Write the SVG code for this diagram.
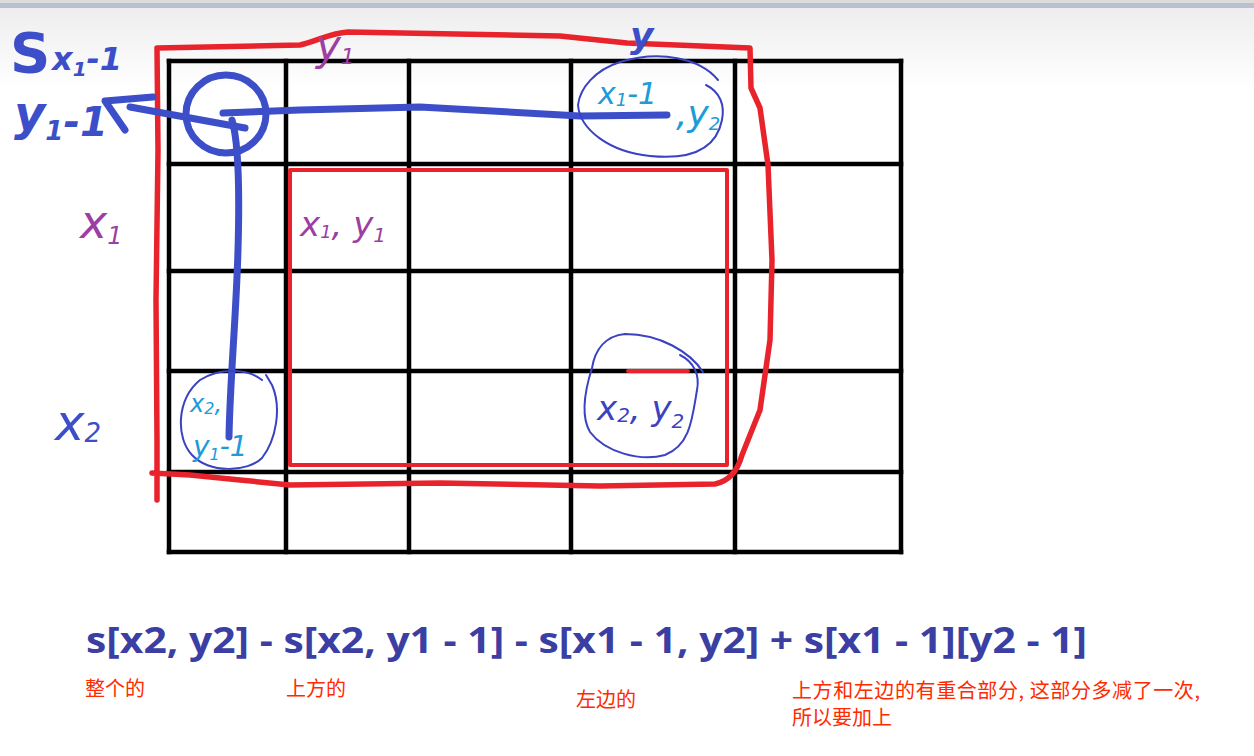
<svg xmlns="http://www.w3.org/2000/svg" width="1254" height="756" viewBox="0 0 1254 756">
<defs>
<linearGradient id="bg" x1="0" y1="0" x2="0" y2="1">
<stop offset="0" stop-color="#ececec"/>
<stop offset="1" stop-color="#ffffff"/>
</linearGradient>
<style>
.grid{stroke:#000;stroke-width:4.5;fill:none;stroke-linecap:square}
.red{stroke:#e8232b;fill:none;stroke-linecap:round;stroke-linejoin:round}
.blue{stroke:#3d4ec9;fill:none;stroke-linecap:round;stroke-linejoin:round}
.thin{stroke:#3a42c2;stroke-width:2;fill:none;stroke-linecap:round}
.hw{font-family:"DejaVu Sans",sans-serif;font-style:italic}
.hb{fill:#3d4ec9;font-weight:bold}
.hp{fill:#9c3ea3}
.hc{fill:#1e9bd7}
.hd{fill:#3a42c2}
.formula{font-family:"Open Sans","Liberation Sans",sans-serif;font-weight:bold;font-size:35px;fill:#3b3fa3}
.note{font-family:"Noto Sans CJK SC",sans-serif;font-size:20px;fill:#ff2a00}
</style>
</defs>
<rect x="0" y="0" width="1254" height="756" fill="#ffffff"/>
<rect x="0" y="0" width="1254" height="90" fill="url(#bg)"/>
<rect x="0" y="0" width="1254" height="3" fill="#dcdcdc"/>
<rect x="0" y="3" width="1254" height="5" fill="#b9c0d0"/>

<g id="grid">
<path class="grid" d="M169,61 V552 M286,61 V552 M409,61 V552 M571,61 V552 M735,61 V552 M901,61 V552"/>
<path class="grid" d="M169,61 H901 M169,164 H901 M169,271 H901 M169,371 H901 M169,472 H901 M169,552 H901"/>
</g>

<g id="outer-region">
<path class="red" stroke-width="5.5" d="M157,500 L157,440 L156,300 L158,150 L157,48 L300,45 C318,41 330,33 348,32 L560,36 L627,43 L750,48 L751,88 L760,108 L768,165 L772,260 L770,340 L760,410 L742,455 Q735,480 715,484 L600,486 L440,483 L290,485 L240,480 L190,475 L152,473"/>
</g>
<g id="inner-region">
<rect class="red" stroke-width="4" x="290" y="170" width="437" height="295"/>
<path class="red" stroke-width="4" d="M628,371 L688,371"/>
</g>

<g id="connectors">
<ellipse class="blue" stroke-width="7" cx="226" cy="114" rx="40" ry="39"/>
<path class="blue" stroke-width="7" d="M153,97 L105,101 L125,130"/>
<path class="blue" stroke-width="7" d="M130,107 L245,128"/>
<path class="blue" stroke-width="7" d="M223,113 L300,110 L420,107 L580,116 L667,115"/>
<path class="blue" stroke-width="7" d="M232,120 C238,140 240,180 238,250 C236,320 230,380 229,437"/>
<path class="thin" d="M718,80 C700,58 660,50 620,62 C595,70 580,88 578,105 C580,130 610,152 650,156 C690,160 716,150 722,120 C725,105 720,92 706,85"/>
<path class="thin" d="M262,380 C250,370 222,366 200,380 C176,400 176,438 192,455 C210,474 248,472 262,458 C276,440 282,408 272,385 C270,382 268,378 266,375"/>
<path class="thin" d="M703,372 C690,352 660,334 625,334 C605,336 595,350 592,368 C585,390 580,415 590,432 C605,452 640,462 665,455 C690,445 692,420 697,390 C700,375 694,362 680,355"/>
</g>

<g id="label-s" class="hw hb">
<text x="10" y="72" font-size="56" font-style="normal">S</text>
<text x="52" y="70" font-size="32">x<tspan font-size="20" dy="6">1</tspan><tspan dy="-6">-1</tspan></text>
<text x="14" y="130" font-size="48">y<tspan font-size="26" dy="10">1</tspan><tspan font-size="40" dy="-4">-1</tspan></text>
</g>
<g id="label-y1-top" class="hw hp"><text x="316" y="60" font-size="42">y<tspan font-size="22" dy="4">1</tspan></text></g>
<g id="label-y-top" class="hw hb"><text x="630" y="48" font-size="36">y</text></g>
<g id="label-x1-left" class="hw hp"><text x="80" y="238" font-size="46">x<tspan font-size="24" dy="6">1</tspan></text></g>
<g id="label-x2-left" class="hw hb"><text x="55" y="440" font-size="50" font-weight="normal">x<tspan font-size="26" dy="2">2</tspan></text></g>

<g id="node-x1m1-y2" class="hw hc">
<text x="598" y="104" font-size="30">x<tspan font-size="18" dy="2">1</tspan><tspan dy="-2">-1</tspan></text>
<text x="676" y="126" font-size="36">,y<tspan font-size="18" dy="4">2</tspan></text>
</g>
<g id="node-x1-y1" class="hw hp">
<text x="300" y="236" font-size="34">x<tspan font-size="18" dy="2">1</tspan><tspan dy="-2">, y</tspan><tspan font-size="20" dy="6">1</tspan></text>
</g>
<g id="node-x2-y1m1" class="hw hc">
<text x="190" y="412" font-size="24">x<tspan font-size="16" dy="2">2</tspan><tspan dy="-2">,</tspan></text>
<text x="193" y="456" font-size="28">y<tspan font-size="16" dy="4">1</tspan><tspan dy="-4">-1</tspan></text>
</g>
<g id="node-x2-y2" class="hw hd">
<text x="597" y="420" font-size="34">x<tspan font-size="20" dy="2">2</tspan><tspan dy="-2">, y</tspan><tspan font-size="20" dy="8">2</tspan></text>
</g>

<g id="formula">
<text class="formula" x="86" y="653" textLength="1001" lengthAdjust="spacingAndGlyphs">s[x2, y2] - s[x2, y1 - 1] - s[x1 - 1, y2] + s[x1 - 1][y2 - 1]</text>
</g>
<g id="notes">
<text class="note" x="85" y="696">整个的</text>
<text class="note" x="286" y="696">上方的</text>
<text class="note" x="576" y="707">左边的</text>
<text class="note" x="792" y="698" textLength="408" lengthAdjust="spacing">上方和左边的有重合部分, 这部分多减了一次,</text>
<text class="note" x="792" y="725">所以要加上</text>
</g>
</svg>
